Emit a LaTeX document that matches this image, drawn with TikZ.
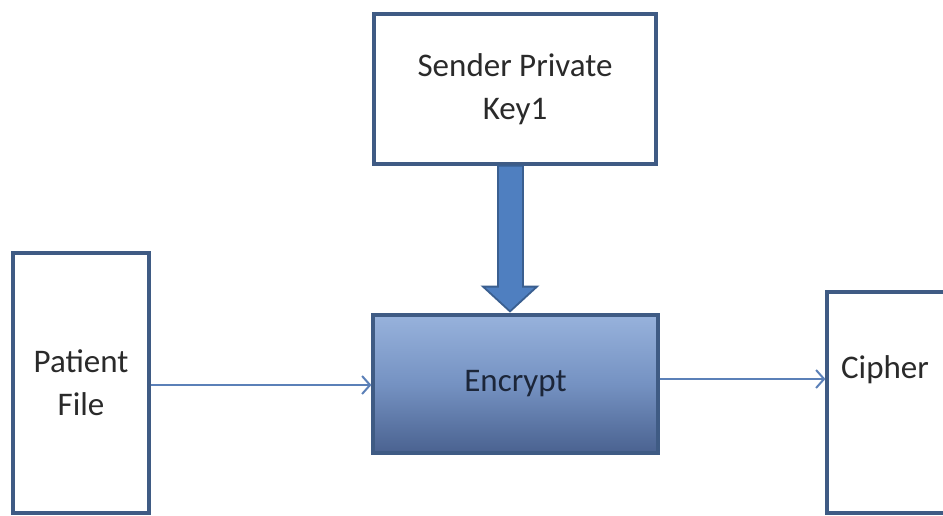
\documentclass[tikz,border=0pt]{standalone}
\usepackage{fontspec}
\setmainfont{Carlito}
\usetikzlibrary{arrows.meta,calc}

\definecolor{boxline}{HTML}{3F5B84}
\definecolor{txtgray}{HTML}{2A2A2A}
\definecolor{enctop}{HTML}{97B2DC}
\definecolor{encmid}{HTML}{7592C2}
\definecolor{encbot}{HTML}{4A6290}
\definecolor{enctext}{HTML}{1C2639}
\definecolor{linkblue}{HTML}{5B80B8}
\definecolor{bigfill}{HTML}{4F7FC0}
\definecolor{bigline}{HTML}{3A5F90}

\tikzset{
  x=1pt, y=-1pt,
  blockbox/.style={draw=boxline, line width=3.2pt, fill=white, inner sep=0pt,
    text=txtgray, align=center, font=\fontsize{33}{43}\selectfont},
  encbox/.style={draw=boxline, line width=3.2pt, inner sep=0pt,
    top color=enctop, bottom color=encbot, middle color=encmid,
    text=enctext, font=\fontsize{33}{43}\selectfont},
  flow/.style={draw=linkblue, line width=2pt,
    -{Straight Barb[length=8pt,width=18pt,line width=2pt]}},
  keyarrow/.style={fill=bigfill, draw=bigline, line width=1.8pt, line join=miter}
}

\begin{document}
\begin{tikzpicture}
\useasboundingbox (0,0) rectangle (943,515);
\fill[white] (0,0) rectangle (943,515);

% blocks
\node[blockbox, minimum width=282pt, minimum height=150pt] (key) at (515,89)
  {Sender Private\\Key1};
\node[blockbox, minimum width=136pt, minimum height=260pt] (patient) at (81,383)
  {Patient\\File};
\node[encbox, minimum width=285pt, minimum height=138pt] (enc) at (515.5,384)
  {Encrypt};
\node[blockbox, minimum width=120pt, minimum height=221pt] (cipher) at (887,402.5) {};
\node[text=txtgray, font=\fontsize{33}{43}\selectfont] (ciphertext) at (885,370) {Cipher};

% block arrow from the key into the encryption step
\path[keyarrow]
  ($(key.south)+(-17,0)$) -- ($(key.south)+(8,0)$)
  -- ($(key.south)+(8,121)$) -- ($(key.south)+(22,121)$)
  -- ($(enc.north)+(-5.5,-2)$)
  -- ($(key.south)+(-32,121)$) -- ($(key.south)+(-17,121)$) -- cycle;

% data flow
\draw[flow] (patient.east |- 0,385) -- (enc.west |- 0,385);
\draw[flow] (enc.east |- 0,379) -- (cipher.west |- 0,379);
\end{tikzpicture}
\end{document}
